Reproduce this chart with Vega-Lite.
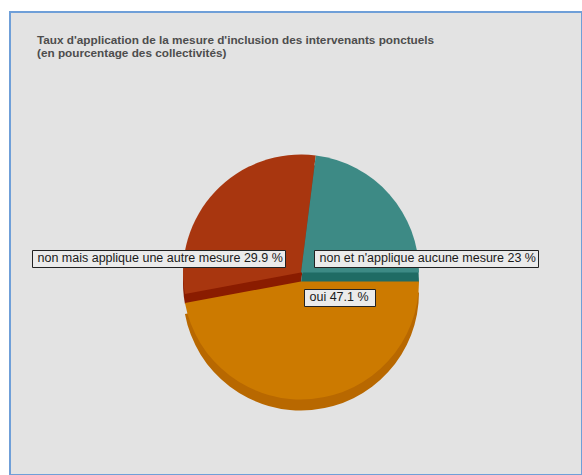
{
  "$schema": "https://vega.github.io/schema/vega-lite/v6.json",
  "width": 572,
  "height": 463,
  "autosize": {"type": "none"},
  "padding": {"left": 10, "top": 12, "right": 0, "bottom": 0},
  "background": "#ffffff",
  "view": {"fill": "#e3e3e3", "stroke": "#6f9fd8", "strokeWidth": 2},
  "title": {
    "text": ["Taux d'application de la mesure d'inclusion des intervenants ponctuels", "(en pourcentage des collectivités)"],
    "anchor": "start",
    "frame": "group",
    "orient": "top",
    "offset": -48,
    "dx": 27,
    "font": "Liberation Sans",
    "fontSize": 11.75,
    "fontWeight": "bold",
    "color": "#4d4d4d",
    "lineHeight": 13
  },
  "data": {
    "values": [
      {"cat": "oui", "value": 47.1, "label": "oui  47.1 %"},
      {"cat": "non mais applique une autre mesure", "value": 29.9, "label": "non mais applique une autre mesure 29.9 %"},
      {"cat": "non et n'applique aucune mesure", "value": 23, "label": "non et n'applique aucune mesure 23 %"}
    ]
  },
  "layer": [
    {
      "transform": [
        {"stack": "value", "groupby": [], "sort": [{"field": "cat", "order": "descending"}], "as": ["v0", "v1"]},
        {"filter": "datum.cat != 'oui'"}
      ],
      "mark": {"type": "arc", "radius": 118, "xOffset": 5, "yOffset": 39},
      "encoding": {
        "theta": {"field": "v0", "type": "quantitative", "stack": null, "scale": {"domain": [0, 100], "range": [1.5707963, 7.8539816]}},
        "theta2": {"field": "v1"},
        "fill": {"condition": {"test": "datum.value == 23", "value": "#1f6b64"}, "value": "#8a1c00"}
      }
    },
    {
      "transform": [
        {"stack": "value", "groupby": [], "sort": [{"field": "cat", "order": "descending"}], "as": ["v0", "v1"]},
        {"filter": "datum.cat != 'oui'"}
      ],
      "mark": {"type": "arc", "radius": 118, "xOffset": 5, "yOffset": 29},
      "encoding": {
        "theta": {"field": "v0", "type": "quantitative", "stack": null, "scale": {"domain": [0, 100], "range": [1.5707963, 7.8539816]}},
        "theta2": {"field": "v1"},
        "fill": {"condition": {"test": "datum.value == 23", "value": "#3d8a85"}, "value": "#a8360f"}
      }
    },
    {
      "transform": [
        {"stack": "value", "groupby": [], "sort": [{"field": "cat", "order": "descending"}], "as": ["v0", "v1"]},
        {"filter": "datum.cat == 'oui'"}
      ],
      "mark": {"type": "arc", "radius": 118, "xOffset": 5, "yOffset": 49, "fill": "#b86800"},
      "encoding": {
        "theta": {"field": "v0", "type": "quantitative", "stack": null, "scale": {"domain": [0, 100], "range": [1.5707963, 7.8539816]}},
        "theta2": {"field": "v1"}
      }
    },
    {
      "transform": [
        {"stack": "value", "groupby": [], "sort": [{"field": "cat", "order": "descending"}], "as": ["v0", "v1"]},
        {"filter": "datum.cat == 'oui'"}
      ],
      "mark": {"type": "arc", "radius": 118, "xOffset": 5, "yOffset": 38, "fill": "#cc7a00"},
      "encoding": {
        "theta": {"field": "v0", "type": "quantitative", "stack": null, "scale": {"domain": [0, 100], "range": [1.5707963, 7.8539816]}},
        "theta2": {"field": "v1"}
      }
    },
    {
      "transform": [{"filter": "datum.value == 29.9"}],
      "mark": {"type": "point", "opacity": 0},
      "encoding": {
        "shape": {"field": "label", "type": "nominal", "legend": {"orient": "none", "legendX": 22, "legendY": 238, "title": null, "padding": 2, "labelOffset": -9, "symbolSize": 1, "symbolOpacity": 0, "symbolStrokeWidth": 0, "fillColor": "#ebebeb", "strokeColor": "#222222", "labelFont": "Liberation Sans", "labelFontSize": 12.5, "labelColor": "#1a1a1a", "labelLimit": 0, "cornerRadius": 0}}
      }
    },
    {
      "transform": [{"filter": "datum.value == 23"}],
      "mark": {"type": "point", "opacity": 0},
      "encoding": {
        "shape": {"field": "label", "type": "nominal", "legend": {"orient": "none", "legendX": 304, "legendY": 238, "title": null, "padding": 2, "labelOffset": -9, "symbolSize": 1, "symbolOpacity": 0, "symbolStrokeWidth": 0, "fillColor": "#ebebeb", "strokeColor": "#222222", "labelFont": "Liberation Sans", "labelFontSize": 12.5, "labelColor": "#1a1a1a", "labelLimit": 0, "cornerRadius": 0}}
      }
    },
    {
      "transform": [{"filter": "datum.cat == 'oui'"}],
      "mark": {"type": "point", "opacity": 0},
      "encoding": {
        "shape": {"field": "label", "type": "nominal", "legend": {"orient": "none", "legendX": 294, "legendY": 277, "title": null, "padding": 2, "labelOffset": -9, "symbolSize": 1, "symbolOpacity": 0, "symbolStrokeWidth": 0, "fillColor": "#ebebeb", "strokeColor": "#222222", "labelFont": "Liberation Sans", "labelFontSize": 12.5, "labelColor": "#1a1a1a", "labelLimit": 0, "cornerRadius": 0}}
      }
    }
  ],
  "resolve": {"scale": {"shape": "independent"}, "legend": {"shape": "independent"}}
}
